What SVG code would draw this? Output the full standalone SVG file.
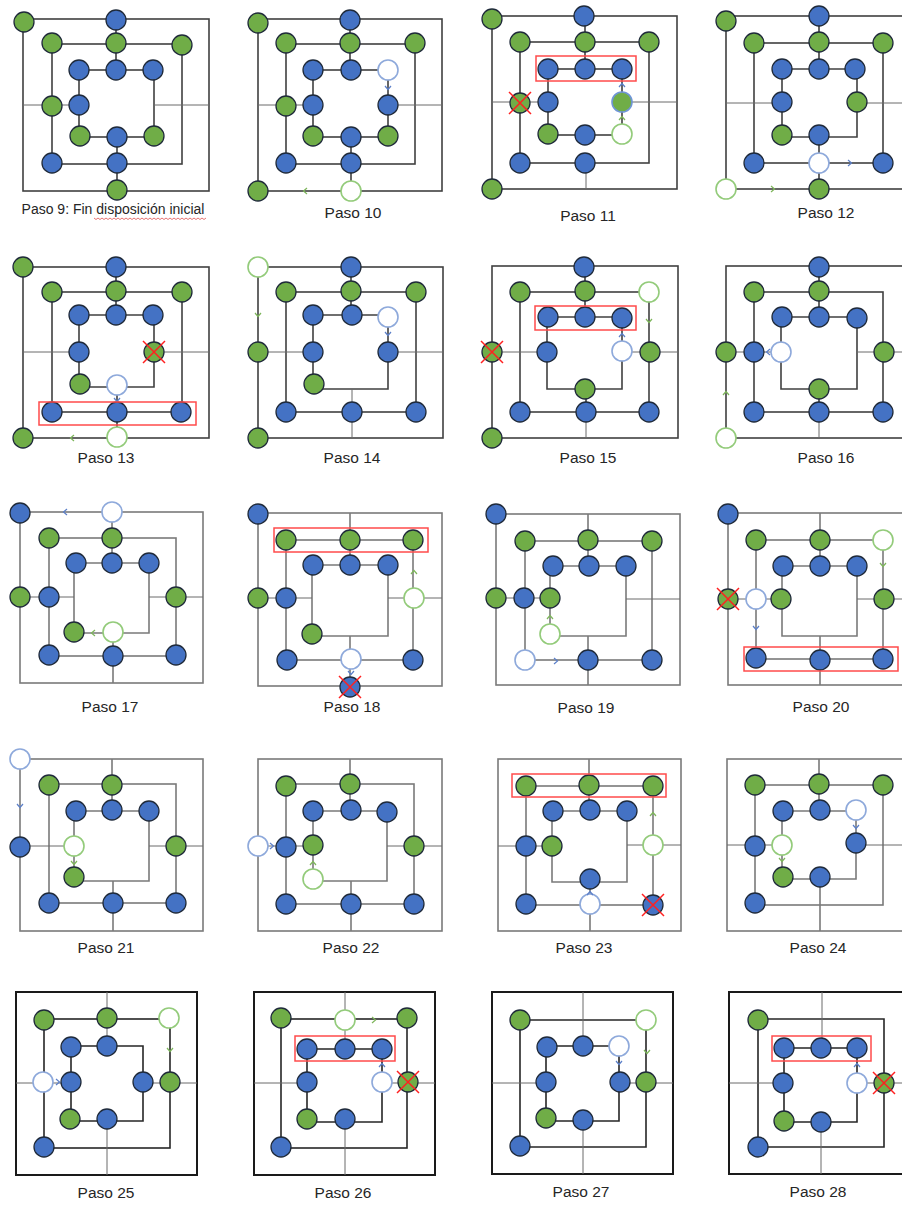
<svg xmlns="http://www.w3.org/2000/svg" width="902" height="1205" viewBox="0 0 902 1205">
<style>
.L1{fill:none;stroke:#404040;stroke-width:1.6}
.L2{fill:none;stroke:#7a7a7a;stroke-width:1.6}
.L5{fill:none;stroke:#262626;stroke-width:1.6}
.O5{fill:none;stroke:#1a1a1a;stroke-width:2}
.T{fill:none;stroke:#6a6a6a;stroke-width:1}
.b{fill:#4472C4;stroke:#1f2a3a;stroke-width:1.3}
.g{fill:#70AD47;stroke:#1f2a3a;stroke-width:1.3}
.gb{fill:#70AD47;stroke:#6f95d6;stroke-width:1.6}
.eb{fill:#fff;stroke:#8EA9DB;stroke-width:1.6}
.eg{fill:#fff;stroke:#93CB7A;stroke-width:1.6}
.ab{fill:none;stroke:#5B7FC9;stroke-width:1.2}
.ag{fill:none;stroke:#7DB65A;stroke-width:1.2}
.rr{fill:none;stroke:#FF4B4B;stroke-width:1.5}
.x{fill:none;stroke:#FF2020;stroke-width:1.5}
.t{font-family:"Liberation Sans",Arial,sans-serif;font-size:15.5px;fill:#262626;text-anchor:middle}
</style>
<rect width="902" height="1205" fill="#fff"/>

<!-- Paso 9 -->
<g id="paso9">
<g class="conn">
<rect class="L1" x="23" y="19" width="186" height="172"/>
<rect class="L1" x="52" y="44" width="130" height="120"/>
<rect class="L1" x="79" y="70" width="75" height="67"/>
<path class="L1" d="M116,19V70M117,137V191"/>
<path class="T" d="M23,105H79M154,105H209"/>
</g>
<circle class="g" cx="24" cy="22" r="10"/><circle class="b" cx="116" cy="20" r="10"/><circle class="g" cx="117" cy="190" r="10"/>
<circle class="g" cx="52" cy="43" r="10"/><circle class="g" cx="116" cy="43" r="10"/><circle class="g" cx="182" cy="45" r="10"/><circle class="g" cx="52" cy="106" r="10"/>
<circle class="b" cx="52" cy="163" r="10"/><circle class="b" cx="117" cy="163" r="10"/>
<circle class="b" cx="79" cy="70" r="10"/><circle class="b" cx="116" cy="70" r="10"/><circle class="b" cx="153" cy="70" r="10"/><circle class="b" cx="79" cy="105" r="10"/>
<circle class="g" cx="80" cy="136" r="10"/><circle class="b" cx="117" cy="137" r="10"/><circle class="g" cx="154" cy="136" r="10"/>
<text x="113" y="214" class="t" style="font-size:14px">Paso 9: Fin disposición inicial</text>
<path d="M94,218 l2,1.5 l2,-1.5 l2,1.5 l2,-1.5 l2,1.5 l2,-1.5 l2,1.5 l2,-1.5 l2,1.5 l2,-1.5 l2,1.5 l2,-1.5 l2,1.5 l2,-1.5 l2,1.5 l2,-1.5 l2,1.5 l2,-1.5 l2,1.5 l2,-1.5 l2,1.5 l2,-1.5 l2,1.5 l2,-1.5 l2,1.5 l2,-1.5 l2,1.5 l2,-1.5 l2,1.5 l2,-1.5 l2,1.5 l2,-1.5 l2,1.5 l2,-1.5 l2,1.5 l2,-1.5 l2,1.5 l2,-1.5 l2,1.5 l2,-1.5 l2,1.5 l2,-1.5 l2,1.5 l2,-1.5 l2,1.5 l2,-1.5 l2,1.5 l2,-1.5 l2,1.5 l2,-1.5 l2,1.5 l2,-1.5 l2,1.5 l2,-1.5 l2,1.5 l2,-1.5" fill="none" stroke="#e05050" stroke-width="0.8"/>
</g>

<!-- Paso 10 -->
<g id="paso10">
<g class="conn">
<rect class="L1" x="258" y="19" width="184" height="172"/>
<rect class="L1" x="286" y="44" width="129" height="120"/>
<rect class="L1" x="313" y="70" width="75" height="67"/>
<path class="L1" d="M350,19V70M351,137V191"/>
<path class="T" d="M258,105H313M388,105H442"/>
</g>
<circle class="g" cx="258" cy="23" r="10"/><circle class="b" cx="350" cy="20" r="10"/><circle class="g" cx="258" cy="191" r="10"/><circle class="eg" cx="351" cy="191" r="10"/>
<circle class="g" cx="286" cy="43" r="10"/><circle class="g" cx="350" cy="43" r="10"/><circle class="g" cx="415" cy="43" r="10"/><circle class="g" cx="286" cy="106" r="10"/>
<circle class="b" cx="286" cy="163" r="10"/><circle class="b" cx="351" cy="163" r="10"/>
<circle class="b" cx="313" cy="70" r="10"/><circle class="b" cx="351" cy="70" r="10"/><circle class="eb" cx="388" cy="70" r="10"/><circle class="b" cx="388" cy="105" r="10"/><circle class="b" cx="313" cy="105" r="10"/>
<circle class="g" cx="313" cy="136" r="10"/><circle class="b" cx="351" cy="137" r="10"/><circle class="g" cx="388" cy="136" r="10"/>
<path class="ag" d="M307,188L303.5,191L307,194"/>
<path class="ab" d="M385,86L388,89.5L391,86"/>
<text x="353" y="218" class="t">Paso 10</text>
</g>

<!-- Paso 11 -->
<g id="paso11">
<g class="conn">
<rect class="L1" x="492" y="16" width="185" height="173"/>
<rect class="L1" x="520" y="42" width="129" height="121"/>
<rect class="L1" x="548" y="69" width="74" height="66"/>
<path class="L1" d="M585,16V69"/>
<path class="T" d="M586,163V189M492,102H548M622,102H677"/>
</g>
<circle class="g" cx="492" cy="19" r="10"/><circle class="b" cx="584" cy="16" r="10"/><circle class="g" cx="492" cy="189" r="10"/>
<circle class="g" cx="520" cy="42" r="10"/><circle class="g" cx="585" cy="42" r="10"/><circle class="g" cx="649" cy="42" r="10"/><circle class="g" cx="520" cy="103" r="10"/>
<circle class="b" cx="520" cy="163" r="10"/><circle class="b" cx="585" cy="163" r="10"/>
<circle class="b" cx="548" cy="69" r="10"/><circle class="b" cx="585" cy="69" r="10"/><circle class="b" cx="622" cy="69" r="10"/><circle class="b" cx="548" cy="102" r="10"/>
<circle class="gb" cx="622" cy="102" r="10"/>
<circle class="g" cx="548" cy="134" r="10"/><circle class="b" cx="585" cy="135" r="10"/><circle class="eg" cx="622" cy="134" r="10"/>
<path class="ag" d="M619,120L622,116.5L625,120"/>
<path class="ab" d="M619,87L622,83.5L625,87"/>
<rect class="rr" x="536" y="56" width="100" height="25"/>
<path class="x" d="M509,92L531,114M531,92L509,114"/>
<text x="588" y="221" class="t">Paso 11</text>
</g>

<!-- Paso 12 -->
<g id="paso12">
<g class="conn">
<rect class="L1" x="726" y="16" width="190" height="173"/>
<rect class="L1" x="754" y="43" width="129" height="120"/>
<path class="L1" d="M782,69H857V137H782Z"/>
<path class="L1" d="M819,16V69M819,137V189"/>
<path class="T" d="M726,103H782M857,103H910"/>
</g>
<circle class="g" cx="726" cy="21" r="10"/><circle class="b" cx="819" cy="16" r="10"/><circle class="eg" cx="726" cy="189" r="10"/><circle class="g" cx="819" cy="189" r="10"/>
<circle class="g" cx="754" cy="43" r="10"/><circle class="g" cx="819" cy="42" r="10"/><circle class="g" cx="883" cy="43" r="10"/>
<circle class="b" cx="754" cy="163" r="10"/><circle class="eb" cx="819" cy="163" r="10"/><circle class="b" cx="883" cy="163" r="10"/>
<circle class="b" cx="782" cy="69" r="10"/><circle class="b" cx="819" cy="69" r="10"/><circle class="b" cx="855" cy="69" r="10"/><circle class="b" cx="782" cy="102" r="10"/>
<circle class="g" cx="857" cy="102" r="10"/><circle class="g" cx="782" cy="135" r="10"/><circle class="b" cx="819" cy="135" r="10"/>
<path class="ag" d="M771,186L774.5,189L771,192"/>
<path class="ab" d="M848,160L851.5,163L848,166"/>
<text x="826" y="218" class="t">Paso 12</text>
</g>

<!-- Paso 13 -->
<g id="paso13">
<g class="conn">
<rect class="L1" x="23" y="267" width="186" height="171"/>
<rect class="L1" x="52" y="292" width="130" height="120"/>
<path class="L1" d="M79,315H154V387H79Z"/>
<path class="L1" d="M116,267V315M117,387V438"/>
<path class="T" d="M23,352H79M154,352H209"/>
</g>
<circle class="g" cx="23" cy="267" r="10"/><circle class="b" cx="116" cy="267" r="10"/><circle class="g" cx="23" cy="438" r="10"/><circle class="eg" cx="117" cy="437" r="10"/>
<circle class="g" cx="52" cy="292" r="10"/><circle class="g" cx="116" cy="291" r="10"/><circle class="g" cx="182" cy="292" r="10"/>
<circle class="b" cx="52" cy="412" r="10"/><circle class="b" cx="117" cy="412" r="10"/><circle class="b" cx="181" cy="412" r="10"/>
<circle class="b" cx="79" cy="315" r="10"/><circle class="b" cx="116" cy="315" r="10"/><circle class="b" cx="153" cy="315" r="10"/><circle class="b" cx="79" cy="352" r="10"/>
<circle class="g" cx="154" cy="352" r="10"/><circle class="g" cx="80" cy="384" r="10"/><circle class="eb" cx="117" cy="385" r="10"/>
<path class="ag" d="M74,435L70.5,438L74,441"/>
<path class="ab" d="M114,398L117,401.5L120,398"/>
<rect class="rr" x="39" y="402" width="157" height="23"/>
<path class="x" d="M143,341L165,363M165,341L143,363"/>
<text x="106" y="463" class="t">Paso 13</text>
</g>

<!-- Paso 14 -->
<g id="paso14">
<g class="conn">
<rect class="L1" x="258" y="267" width="185" height="171"/>
<rect class="L1" x="286" y="292" width="130" height="120"/>
<path class="L1" d="M313,315H388V389H313Z"/>
<path class="L1" d="M351,267V315"/>
<path class="T" d="M352,389V438M258,352H313M388,352H443"/>
</g>
<circle class="eg" cx="258" cy="267" r="10"/><circle class="b" cx="351" cy="267" r="10"/><circle class="g" cx="258" cy="352" r="10"/><circle class="g" cx="258" cy="438" r="10"/>
<circle class="g" cx="286" cy="292" r="10"/><circle class="g" cx="351" cy="291" r="10"/><circle class="g" cx="416" cy="292" r="10"/>
<circle class="b" cx="286" cy="412" r="10"/><circle class="b" cx="352" cy="412" r="10"/><circle class="b" cx="416" cy="412" r="10"/>
<circle class="b" cx="313" cy="315" r="10"/><circle class="b" cx="352" cy="315" r="10"/><circle class="eb" cx="388" cy="317" r="10"/>
<circle class="b" cx="313" cy="352" r="10"/><circle class="b" cx="388" cy="352" r="10"/><circle class="g" cx="314" cy="384" r="10"/>
<path class="ag" d="M255,313L258,316.5L261,313"/>
<path class="ab" d="M385,332L388,335.5L391,332"/>
<text x="352" y="463" class="t">Paso 14</text>
</g>

<!-- Paso 15 -->
<g id="paso15">
<g class="conn">
<rect class="L1" x="492" y="266" width="186" height="172"/>
<rect class="L1" x="520" y="292" width="129" height="120"/>
<path class="L1" d="M547,317H622V389H547Z"/>
<path class="L1" d="M585,266V317M586,389V412"/>
<path class="T" d="M586,412V438M492,352H547M622,352H678"/>
</g>
<circle class="b" cx="584" cy="267" r="10"/><circle class="g" cx="492" cy="352" r="10"/><circle class="g" cx="492" cy="438" r="10"/>
<circle class="g" cx="520" cy="292" r="10"/><circle class="g" cx="585" cy="291" r="10"/><circle class="eg" cx="649" cy="292" r="10"/><circle class="g" cx="650" cy="352" r="10"/>
<circle class="b" cx="520" cy="412" r="10"/><circle class="b" cx="586" cy="412" r="10"/><circle class="b" cx="649" cy="412" r="10"/>
<circle class="b" cx="548" cy="317" r="10"/><circle class="b" cx="585" cy="317" r="10"/><circle class="b" cx="622" cy="318" r="10"/><circle class="b" cx="547" cy="352" r="10"/>
<circle class="eb" cx="622" cy="351" r="10"/><circle class="g" cx="585" cy="389" r="10"/>
<path class="ag" d="M646,319L649,322.5L652,319"/>
<path class="ab" d="M619,337L622,333.5L625,337"/>
<rect class="rr" x="535" y="306" width="101" height="24"/>
<path class="x" d="M481,341L503,363M503,341L481,363"/>
<text x="588" y="463" class="t">Paso 15</text>
</g>

<!-- Paso 16 -->
<g id="paso16">
<g class="conn">
<rect class="L1" x="726" y="266" width="190" height="172"/>
<rect class="L1" x="754" y="292" width="129" height="120"/>
<path class="L1" d="M781,317H857V389H781Z"/>
<path class="L1" d="M819,266V317M819,389V412"/>
<path class="T" d="M819,412V438M726,352H781M857,352H910"/>
</g>
<circle class="b" cx="819" cy="267" r="10"/><circle class="g" cx="726" cy="352" r="10"/><circle class="eg" cx="726" cy="438" r="10"/>
<circle class="g" cx="754" cy="292" r="10"/><circle class="g" cx="819" cy="291" r="10"/>
<circle class="b" cx="754" cy="352" r="10"/><circle class="g" cx="884" cy="352" r="10"/>
<circle class="b" cx="754" cy="412" r="10"/><circle class="b" cx="819" cy="412" r="10"/><circle class="b" cx="883" cy="412" r="10"/>
<circle class="b" cx="782" cy="317" r="10"/><circle class="b" cx="819" cy="317" r="10"/><circle class="b" cx="857" cy="318" r="10"/>
<circle class="eb" cx="781" cy="352" r="10"/><circle class="g" cx="819" cy="389" r="10"/>
<path class="ag" d="M723,395L726,391.5L729,395"/>
<path class="ab" d="M770,349L766.5,352L770,355"/>
<text x="826" y="463" class="t">Paso 16</text>
</g>

<!-- Paso 17 -->
<g id="paso17">
<g class="conn">
<rect class="L2" x="20" y="512" width="183" height="171"/>
<rect class="L2" x="49" y="538" width="127" height="118"/>
<path class="L2" d="M74,563H149V633H74Z"/>
<path class="L2" d="M112,512V563M113,633V683"/>
<path class="T" d="M20,597H74M149,597H203"/>
</g>
<circle class="b" cx="20" cy="513" r="10"/><circle class="eb" cx="112" cy="512" r="10"/><circle class="g" cx="20" cy="597" r="10"/>
<circle class="g" cx="49" cy="538" r="10"/><circle class="g" cx="112" cy="538" r="10"/>
<circle class="b" cx="49" cy="597" r="10"/><circle class="g" cx="176" cy="597" r="10"/>
<circle class="b" cx="49" cy="655" r="10"/><circle class="b" cx="113" cy="656" r="10"/><circle class="b" cx="176" cy="655" r="10"/>
<circle class="b" cx="76" cy="563" r="10"/><circle class="b" cx="112" cy="563" r="10"/><circle class="b" cx="149" cy="563" r="10"/>
<circle class="g" cx="74" cy="632" r="10"/><circle class="eg" cx="113" cy="632" r="10"/>
<path class="ab" d="M67,509L63.5,512L67,515"/>
<path class="ag" d="M95,630L91.5,633L95,636"/>
<text x="110" y="712" class="t">Paso 17</text>
</g>

<!-- Paso 18 -->
<g id="paso18">
<g class="conn">
<rect class="L2" x="258" y="513" width="184" height="173"/>
<rect class="L2" x="286" y="540" width="127" height="120"/>
<path class="L2" d="M312,565H388V636H312Z"/>
<path class="L2" d="M350,513V565M350,636V686"/>
<path class="T" d="M258,598H312M388,598H442"/>
</g>
<circle class="b" cx="258" cy="514" r="10"/><circle class="g" cx="258" cy="598" r="10"/><circle class="b" cx="350" cy="687" r="10"/>
<circle class="g" cx="286" cy="540" r="10"/><circle class="g" cx="350" cy="540" r="10"/><circle class="g" cx="413" cy="540" r="10"/>
<circle class="b" cx="286" cy="598" r="10"/><circle class="eg" cx="414" cy="598" r="10"/>
<circle class="b" cx="287" cy="660" r="10"/><circle class="eb" cx="351" cy="659" r="10"/><circle class="b" cx="413" cy="660" r="10"/>
<circle class="b" cx="313" cy="565" r="10"/><circle class="b" cx="350" cy="565" r="10"/><circle class="b" cx="388" cy="565" r="10"/>
<circle class="g" cx="312" cy="634" r="10"/>
<path class="ag" d="M411,574L414,570.5L417,574"/>
<path class="ab" d="M348,671L351,674.5L354,671"/>
<rect class="rr" x="274" y="528" width="154" height="24"/>
<path class="x" d="M339,676L361,698M361,676L339,698"/>
<text x="352" y="712" class="t">Paso 18</text>
</g>

<!-- Paso 19 -->
<g id="paso19">
<g class="conn">
<rect class="L2" x="496" y="514" width="184" height="171"/>
<rect class="L2" x="525" y="541" width="127" height="119"/>
<path class="L2" d="M550,566H626V636H550Z"/>
<path class="L2" d="M588,514V566M588,636V685"/>
<path class="T" d="M496,598H550M626,599H680"/>
</g>
<circle class="b" cx="496" cy="514" r="10"/><circle class="g" cx="496" cy="598" r="10"/>
<circle class="g" cx="525" cy="541" r="10"/><circle class="g" cx="588" cy="540" r="10"/><circle class="g" cx="652" cy="541" r="10"/>
<circle class="b" cx="524" cy="598" r="10"/>
<circle class="eb" cx="525" cy="660" r="10"/><circle class="b" cx="588" cy="660" r="10"/><circle class="b" cx="652" cy="660" r="10"/>
<circle class="b" cx="553" cy="566" r="10"/><circle class="b" cx="589" cy="566" r="10"/><circle class="b" cx="626" cy="566" r="10"/>
<circle class="g" cx="550" cy="598" r="10"/><circle class="eg" cx="550" cy="634" r="10"/>
<path class="ab" d="M554,658L557.5,661L554,664"/>
<path class="ag" d="M547,619L550,615.5L553,619"/>
<text x="586" y="713" class="t">Paso 19</text>
</g>

<!-- Paso 20 -->
<g id="paso20">
<g class="conn">
<rect class="L2" x="728" y="513" width="190" height="172"/>
<rect class="L2" x="756" y="540" width="127" height="119"/>
<path class="L2" d="M782,566H857V636H782Z"/>
<path class="L2" d="M820,513V566M820,636V685"/>
<path class="T" d="M728,599H782M857,599H910"/>
</g>
<circle class="b" cx="728" cy="514" r="10"/><circle class="g" cx="728" cy="599" r="10"/>
<circle class="g" cx="756" cy="540" r="10"/><circle class="g" cx="820" cy="540" r="10"/><circle class="eg" cx="883" cy="540" r="10"/>
<circle class="eb" cx="756" cy="599" r="10"/><circle class="g" cx="884" cy="599" r="10"/>
<circle class="b" cx="756" cy="658" r="10"/><circle class="b" cx="820" cy="660" r="10"/><circle class="b" cx="883" cy="659" r="10"/>
<circle class="b" cx="783" cy="566" r="10"/><circle class="b" cx="820" cy="566" r="10"/><circle class="b" cx="857" cy="566" r="10"/>
<circle class="g" cx="781" cy="599" r="10"/>
<path class="ag" d="M880,563L883,566.5L886,563"/>
<path class="ab" d="M753,626L756,629.5L759,626"/>
<rect class="rr" x="744" y="647" width="154" height="24"/>
<path class="x" d="M717,588L739,610M739,588L717,610"/>
<text x="821" y="712" class="t">Paso 20</text>
</g>

<!-- Paso 21 -->
<g id="paso21">
<g class="conn">
<rect class="L2" x="20" y="759" width="183" height="172"/>
<rect class="L2" x="49" y="784" width="127" height="119"/>
<path class="L2" d="M74,811H149V881H74Z"/>
<path class="L2" d="M112,759V811M113,881V931"/>
<path class="T" d="M20,846H74M149,846H203"/>
</g>
<circle class="eb" cx="20" cy="759" r="10"/><circle class="b" cx="20" cy="847" r="10"/>
<circle class="g" cx="49" cy="785" r="10"/><circle class="g" cx="112" cy="785" r="10"/><circle class="g" cx="176" cy="846" r="10"/>
<circle class="b" cx="49" cy="903" r="10"/><circle class="b" cx="113" cy="903" r="10"/><circle class="b" cx="176" cy="903" r="10"/>
<circle class="b" cx="76" cy="811" r="10"/><circle class="b" cx="112" cy="810" r="10"/><circle class="b" cx="149" cy="811" r="10"/>
<circle class="eg" cx="74" cy="846" r="10"/><circle class="g" cx="74" cy="877" r="10"/>
<path class="ab" d="M17,804L20,807.5L23,804"/>
<path class="ag" d="M71,861L74,864.5L77,861"/>
<text x="106" y="953" class="t">Paso 21</text>
</g>

<!-- Paso 22 -->
<g id="paso22">
<g class="conn">
<rect class="L2" x="258" y="759" width="184" height="172"/>
<rect class="L2" x="286" y="784" width="128" height="120"/>
<path class="L2" d="M313,811H387V881H313Z"/>
<path class="L2" d="M350,759V811M351,881V931"/>
<path class="T" d="M258,846H313M387,846H442"/>
</g>
<circle class="eb" cx="258" cy="846" r="10"/>
<circle class="g" cx="286" cy="786" r="10"/><circle class="g" cx="350" cy="784" r="10"/>
<circle class="b" cx="286" cy="847" r="10"/><circle class="g" cx="414" cy="846" r="10"/>
<circle class="b" cx="286" cy="904" r="10"/><circle class="b" cx="351" cy="904" r="10"/><circle class="b" cx="414" cy="904" r="10"/>
<circle class="b" cx="313" cy="811" r="10"/><circle class="b" cx="351" cy="810" r="10"/><circle class="b" cx="387" cy="812" r="10"/>
<circle class="g" cx="313" cy="845" r="10"/><circle class="eg" cx="313" cy="879" r="10"/>
<path class="ab" d="M270,843L273.5,846L270,849"/>
<path class="ag" d="M310,865L313,861.5L316,865"/>
<text x="351" y="953" class="t">Paso 22</text>
</g>

<!-- Paso 23 -->
<g id="paso23">
<g class="conn">
<rect class="L2" x="498" y="759" width="183" height="172"/>
<rect class="L2" x="526" y="786" width="127" height="119"/>
<path class="L2" d="M552,811H627V882H552Z"/>
<path class="L2" d="M589,759V811M590,882V931"/>
<path class="T" d="M498,846H552M627,845H681"/>
</g>
<circle class="g" cx="526" cy="786" r="10"/><circle class="g" cx="589" cy="785" r="10"/><circle class="g" cx="653" cy="786" r="10"/>
<circle class="b" cx="526" cy="846" r="10"/><circle class="eg" cx="653" cy="845" r="10"/>
<circle class="b" cx="526" cy="904" r="10"/><circle class="eb" cx="590" cy="904" r="10"/><circle class="b" cx="653" cy="905" r="10"/>
<circle class="b" cx="553" cy="811" r="10"/><circle class="b" cx="590" cy="810" r="10"/><circle class="b" cx="627" cy="811" r="10"/>
<circle class="g" cx="552" cy="846" r="10"/><circle class="b" cx="590" cy="879" r="10"/>
<path class="ag" d="M650,816L653,812.5L656,816"/>
<path class="ab" d="M587,895L590,891.5L593,895"/>
<rect class="rr" x="512" y="774" width="154" height="23"/>
<path class="x" d="M642,894L664,916M664,894L642,916"/>
<text x="584" y="953" class="t">Paso 23</text>
</g>

<!-- Paso 24 -->
<g id="paso24">
<g class="conn">
<rect class="L2" x="727" y="759" width="190" height="172"/>
<rect class="L2" x="755" y="785" width="128" height="120"/>
<path class="L2" d="M782,811H856V879H782Z"/>
<path class="L2" d="M819,759V811M820,879V931"/>
<path class="T" d="M727,845H782M856,845H910"/>
</g>
<circle class="g" cx="755" cy="785" r="10"/><circle class="g" cx="819" cy="784" r="10"/><circle class="g" cx="883" cy="785" r="10"/>
<circle class="b" cx="755" cy="846" r="10"/><circle class="b" cx="755" cy="903" r="10"/>
<circle class="b" cx="783" cy="811" r="10"/><circle class="b" cx="820" cy="810" r="10"/><circle class="eb" cx="856" cy="810" r="10"/>
<circle class="b" cx="856" cy="843" r="10"/><circle class="eg" cx="782" cy="845" r="10"/>
<circle class="g" cx="783" cy="877" r="10"/><circle class="b" cx="820" cy="877" r="10"/>
<path class="ab" d="M853,825L856,828.5L859,825"/>
<path class="ag" d="M779,858L782,861.5L785,858"/>
<text x="818" y="953" class="t">Paso 24</text>
</g>

<!-- Paso 25 -->
<g id="paso25">
<g class="conn">
<rect class="O5" x="16" y="992" width="181" height="183"/>
<rect class="L5" x="44" y="1019" width="126" height="129"/>
<path class="L5" d="M71,1046H143V1121H71Z"/>
<path class="T" d="M107,992V1046M107,1121V1175M16,1083H71M143,1083H197"/>
</g>
<circle class="g" cx="44" cy="1020" r="10"/><circle class="g" cx="107" cy="1018" r="10"/><circle class="eg" cx="169" cy="1018" r="10"/>
<circle class="eb" cx="43" cy="1082" r="10"/><circle class="g" cx="170" cy="1082" r="10"/><circle class="b" cx="44" cy="1147" r="10"/>
<circle class="b" cx="71" cy="1047" r="10"/><circle class="b" cx="107" cy="1046" r="10"/>
<circle class="b" cx="71" cy="1082" r="10"/><circle class="b" cx="143" cy="1082" r="10"/>
<circle class="g" cx="70" cy="1119" r="10"/><circle class="b" cx="107" cy="1119" r="10"/>
<path class="ag" d="M167,1048L170,1051.5L173,1048"/>
<path class="ab" d="M56,1079L59.5,1082L56,1085"/>
<text x="106" y="1198" class="t">Paso 25</text>
</g>

<!-- Paso 26 -->
<g id="paso26">
<g class="conn">
<rect class="O5" x="254" y="992" width="181" height="183"/>
<rect class="L5" x="281" y="1019" width="126" height="129"/>
<path class="L5" d="M307,1049H382V1122H307Z"/>
<path class="T" d="M345,992V1049M345,1122V1175M254,1083H307M382,1083H435"/>
</g>
<circle class="g" cx="281" cy="1018" r="10"/><circle class="eg" cx="345" cy="1020" r="10"/><circle class="g" cx="407" cy="1018" r="10"/>
<circle class="g" cx="408" cy="1082" r="10"/><circle class="b" cx="281" cy="1147" r="10"/>
<circle class="b" cx="307" cy="1049" r="10"/><circle class="b" cx="345" cy="1049" r="10"/><circle class="b" cx="382" cy="1049" r="10"/>
<circle class="b" cx="307" cy="1082" r="10"/><circle class="eb" cx="382" cy="1082" r="10"/>
<circle class="g" cx="307" cy="1119" r="10"/><circle class="b" cx="345" cy="1119" r="10"/>
<path class="ag" d="M372,1017L375.5,1020L372,1023"/>
<path class="ab" d="M379,1067L382,1063.5L385,1067"/>
<rect class="rr" x="295" y="1036" width="100" height="25"/>
<path class="x" d="M397,1071L419,1093M419,1071L397,1093"/>
<text x="343" y="1198" class="t">Paso 26</text>
</g>

<!-- Paso 27 -->
<g id="paso27">
<g class="conn">
<rect class="O5" x="492" y="992" width="181" height="182"/>
<path class="L5" d="M520,1020H646V1147H520Z"/>
<path class="L5" d="M546,1046H619V1121H546Z"/>
<path class="T" d="M583,992V1046M583,1121V1174M492,1083H546M619,1083H673"/>
</g>
<circle class="g" cx="520" cy="1020" r="10"/><circle class="eg" cx="646" cy="1020" r="10"/>
<circle class="g" cx="646" cy="1082" r="10"/><circle class="b" cx="520" cy="1146" r="10"/>
<circle class="b" cx="547" cy="1047" r="10"/><circle class="b" cx="583" cy="1046" r="10"/><circle class="eb" cx="619" cy="1046" r="10"/>
<circle class="b" cx="546" cy="1082" r="10"/><circle class="b" cx="620" cy="1082" r="10"/>
<circle class="g" cx="546" cy="1118" r="10"/><circle class="b" cx="583" cy="1120" r="10"/>
<path class="ag" d="M644,1050L647,1053.5L650,1050"/>
<path class="ab" d="M616,1061L619,1064.5L622,1061"/>
<text x="581" y="1197" class="t">Paso 27</text>
</g>

<!-- Paso 28 -->
<g id="paso28">
<g class="conn">
<rect class="O5" x="729" y="992" width="190" height="182"/>
<path class="L5" d="M758,1019H884V1147H758Z"/>
<path class="L5" d="M784,1048H857V1122H784Z"/>
<path class="T" d="M822,992V1048M821,1122V1174M729,1083H784M857,1083H910"/>
</g>
<circle class="g" cx="758" cy="1020" r="10"/><circle class="g" cx="884" cy="1083" r="10"/><circle class="b" cx="758" cy="1147" r="10"/>
<circle class="b" cx="784" cy="1048" r="10"/><circle class="b" cx="821" cy="1048" r="10"/><circle class="b" cx="857" cy="1048" r="10"/>
<circle class="b" cx="783" cy="1083" r="10"/><circle class="eb" cx="857" cy="1083" r="10"/>
<circle class="g" cx="784" cy="1121" r="10"/><circle class="b" cx="821" cy="1122" r="10"/>
<path class="ab" d="M854,1067L857,1063.5L860,1067"/>
<rect class="rr" x="772" y="1036" width="99" height="25"/>
<path class="x" d="M873,1072L895,1094M895,1072L873,1094"/>
<text x="818" y="1197" class="t">Paso 28</text>
</g>
</svg>
